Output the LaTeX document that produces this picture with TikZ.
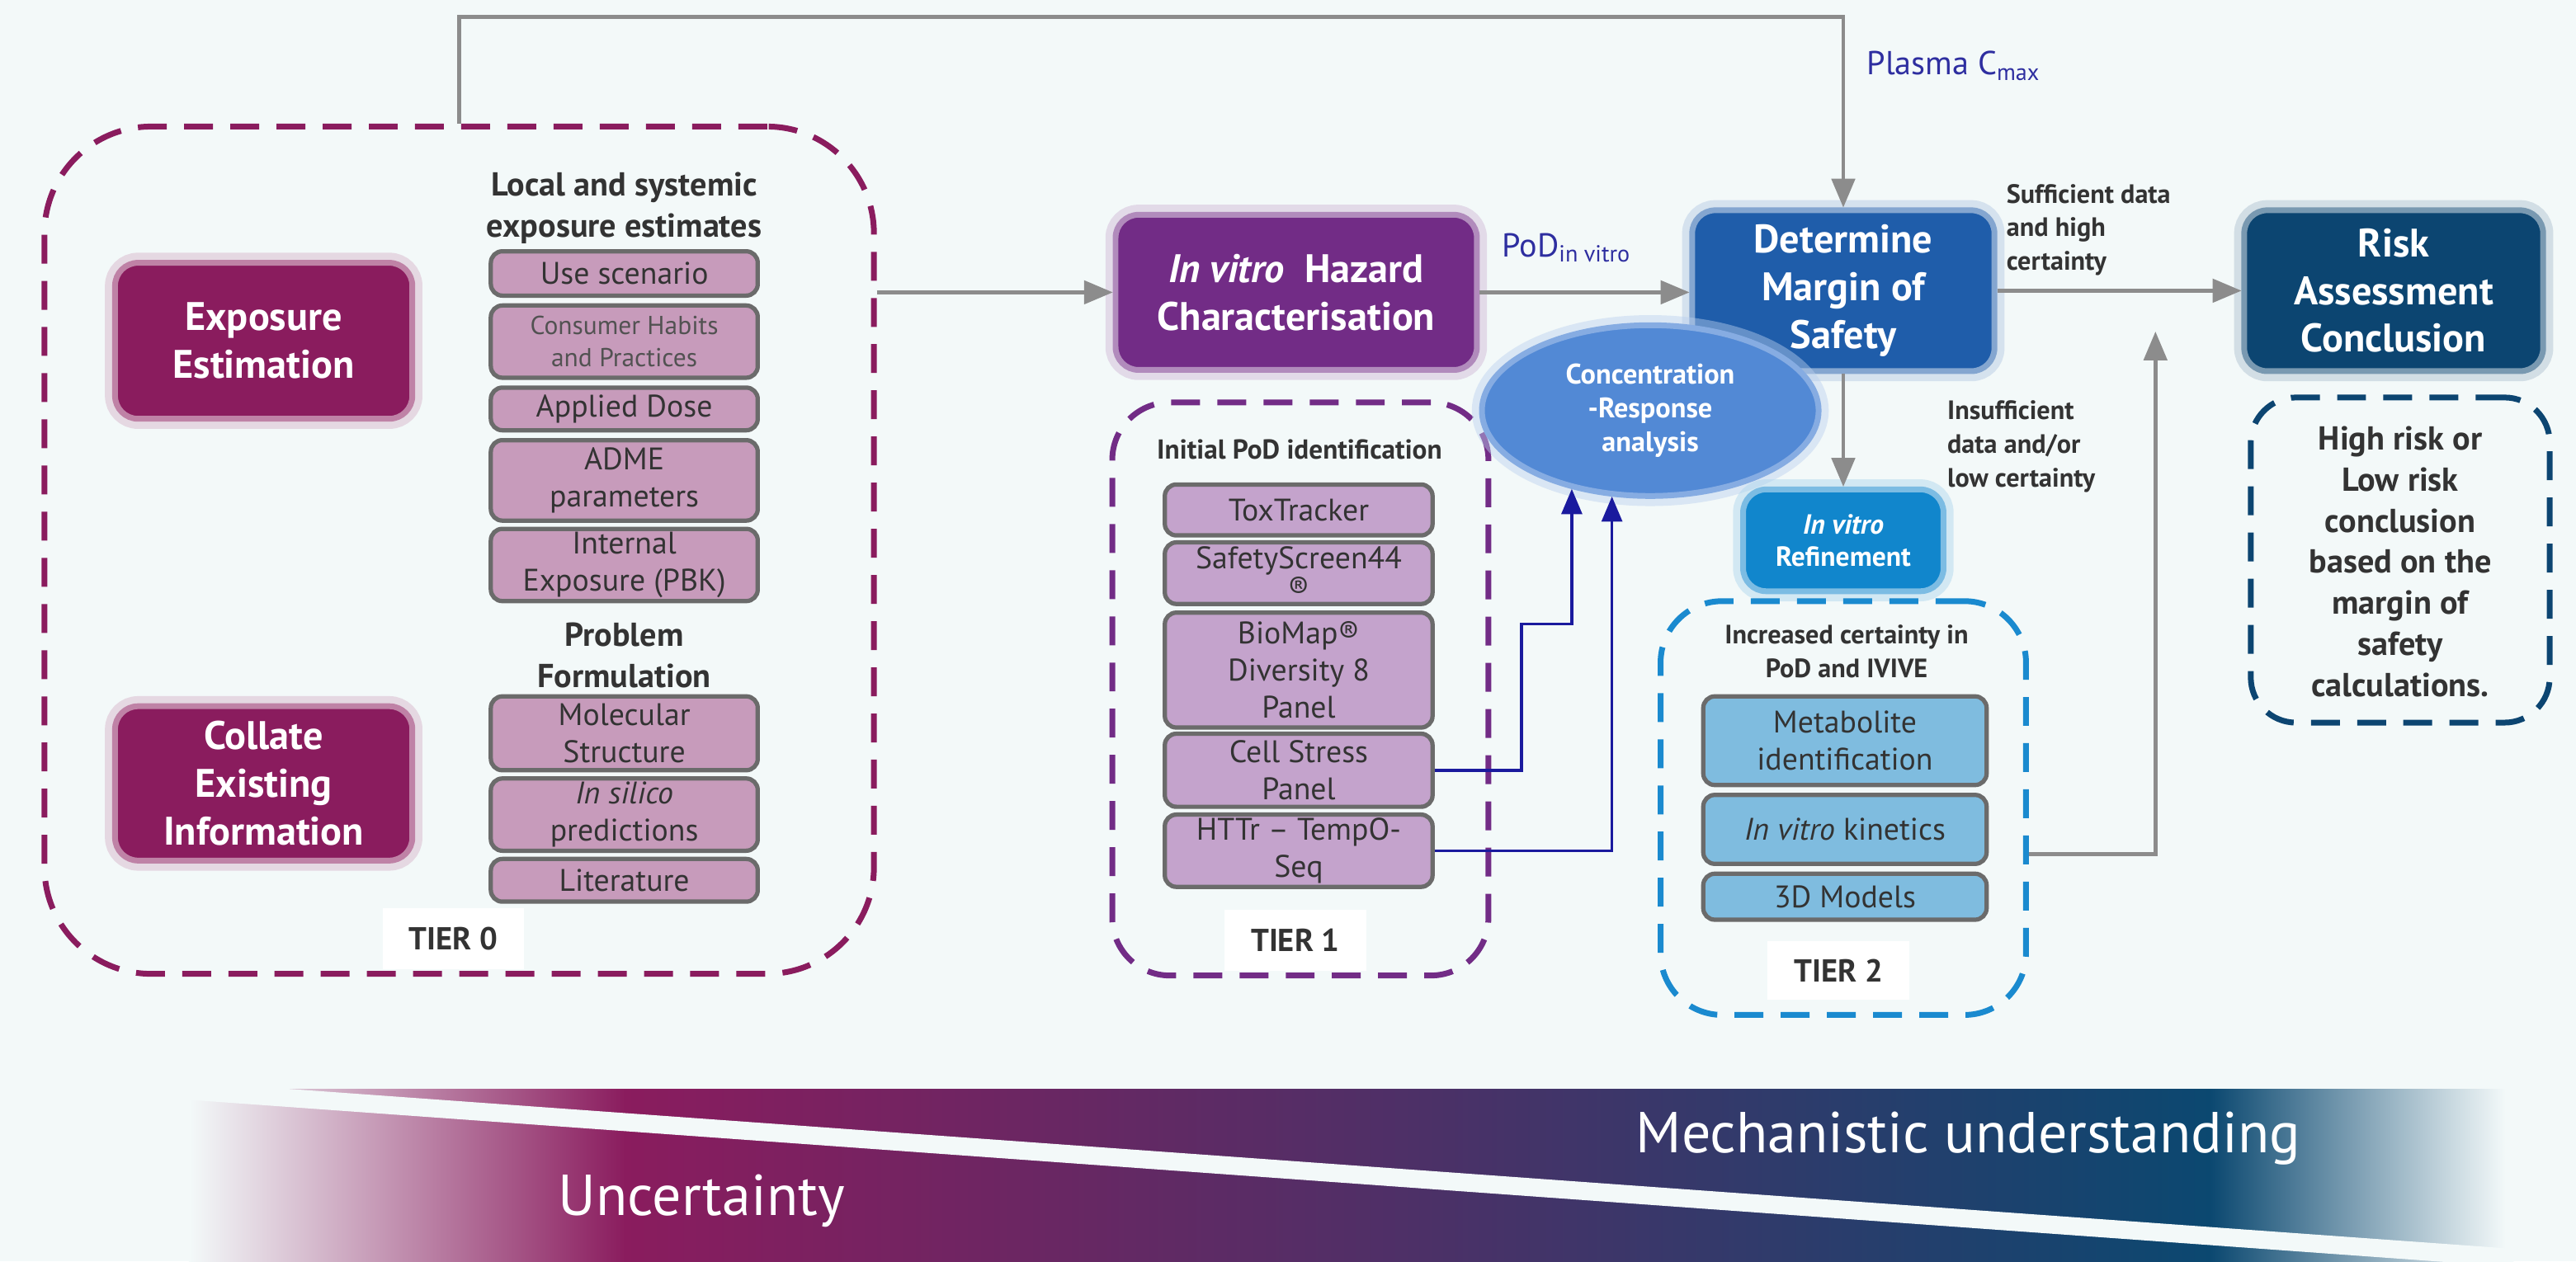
\documentclass[tikz,border=0pt]{standalone}
\usepackage{fontspec}
\setmainfont{PT Sans}
\usetikzlibrary{shapes,arrows,positioning}

\definecolor{bgcol}{HTML}{F3F9F9}
\definecolor{magcol}{HTML}{8A1C5E}
\definecolor{purcol}{HTML}{722C86}
\definecolor{detcol}{HTML}{1F5DAA}
\definecolor{crcol}{HTML}{5289D5}
\definecolor{refcol}{HTML}{1186CC}
\definecolor{riskcol}{HTML}{0C4571}
\definecolor{pinkcol}{HTML}{C79BBB}
\definecolor{lavcol}{HTML}{C4A3CC}
\definecolor{skycol}{HTML}{7FBCDF}
\definecolor{t2col}{HTML}{1A8ACF}
\definecolor{linecol}{HTML}{8C8C8C}
\definecolor{navycol}{HTML}{1A1A9E}
\definecolor{labcol}{HTML}{2E2EA0}
\definecolor{txtcol}{HTML}{333333}
\definecolor{edgecol}{HTML}{6B6B6B}
\definecolor{bandmid}{HTML}{4D3067}
\definecolor{bandend}{HTML}{0B4870}

\begin{document}
\begin{tikzpicture}[x=0.02cm, y=-0.02cm,
  big box/.style = {shape = rectangle, rounded corners = 8pt, fill = #1, draw = #1!55, line width = 2pt, preaction = {draw = #1!35, line width = 7pt, opacity = 0.45}, text = white, align = center, inner sep = 0pt, font = \fontsize{13.8}{16.5}\selectfont\bfseries},
  item box/.style = {shape = rectangle, rounded corners = 4pt, fill = #1, draw = edgecol, line width = 1.5pt, text = txtcol, align = center, inner sep = 1pt, font = \fontsize{10.8}{12.8}\selectfont},
  tier box/.style = {shape = rectangle, draw = #1, line width = 2pt, dash pattern = on 10pt off 6pt},
  tier label/.style = {fill = white, text = txtcol, minimum width = 1.72cm, minimum height = 0.74cm, font = \fontsize{11}{13}\selectfont\bfseries},
  head text/.style = {text = txtcol, align = center, inner sep = 0pt, font = \fontsize{11.5}{14.3}\selectfont\bfseries},
  note text/.style = {text = txtcol, align = left, inner sep = 0pt, font = \fontsize{9.2}{11.7}\selectfont\bfseries},
  blue label/.style = {text = labcol, inner sep = 0pt, font = \fontsize{11.5}{14}\selectfont},
  gray edge/.style = {-triangle 45, linecol, line width = 1.3pt},
  blue edge/.style = {-triangle 45, navycol, line width = 1pt}]

\fill[bgcol] (0,0) rectangle (1568,768);
\useasboundingbox (0,0) rectangle (1568,768);

% bottom band
\shade[left color = bgcol, right color = magcol] (115,663) rectangle (381,768);
\shade[left color = magcol, right color = bandmid] (380,663) rectangle (861,768);
\shade[left color = bandmid, right color = bandend] (860,663) rectangle (1346,768);
\shade[left color = bandend, right color = bgcol] (1345,663) rectangle (1525,768);
\fill[bgcol] (110,658.3) -- (1530,760.4) -- (1530,771.4) -- (110,669.3) -- cycle;
\node[text = white, font = \fontsize{20}{24}\selectfont] (mech) at (1198,693) {Mechanistic understanding};
\node[text = white, font = \fontsize{20}{24}\selectfont] (unc) at (427,731) {Uncertainty};

% tier 0
\node[tier box = magcol, rounded corners = 1.3cm, minimum width = 10.1cm, minimum height = 10.32cm] (tier0) at (279.5,335) {};
\node[big box = magcol, minimum width = 3.62cm, minimum height = 1.9cm] (expo) at (160.5,207.5) {Exposure\\Estimation};
\node[big box = magcol, minimum width = 3.62cm, minimum height = 1.88cm] (coll) at (160.5,477) {Collate\\Existing\\Information};
\node[head text] (exphead) at (380,126.5) {Local and systemic\\exposure estimates};
\node[item box = pinkcol, minimum width = 3.25cm, minimum height = 0.54cm] (use) at (380,166.5) {Use scenario};
\node[item box = pinkcol, minimum width = 3.25cm, minimum height = 0.88cm, font = \fontsize{9}{11.3}\selectfont, text = txtcol!85] (habits) at (380,208) {Consumer Habits\\and Practices};
\node[item box = pinkcol, minimum width = 3.25cm, minimum height = 0.52cm] (dose) at (380,249) {Applied Dose};
\node[item box = pinkcol, minimum width = 3.25cm, minimum height = 0.98cm] (adme) at (380,292.5) {ADME\\parameters};
\node[item box = pinkcol, minimum width = 3.25cm, minimum height = 0.88cm] (pbk) at (380,344) {Internal\\Exposure (PBK)};
\node[head text] (probhead) at (380,399) {Problem\\Formulation};
\node[item box = pinkcol, minimum width = 3.25cm, minimum height = 0.9cm] (molec) at (380,446.5) {Molecular\\Structure};
\node[item box = pinkcol, minimum width = 3.25cm, minimum height = 0.88cm] (silico) at (380,496) {\textit{In silico}\\predictions};
\node[item box = pinkcol, minimum width = 3.25cm, minimum height = 0.52cm] (lit) at (380,536) {Literature};
\node[tier label] (t0lab) at (276,571.5) {TIER 0};

% tier 1
\node[big box = purcol, minimum width = 4.4cm, minimum height = 1.89cm] (haz) at (789,178) {\textit{In vitro}\ \ Hazard\\Characterisation};
\node[tier box = purcol, rounded corners = 0.7cm, minimum width = 4.58cm, minimum height = 6.98cm] (tier1) at (791.5,419.5) {};
\node[head text, font = \fontsize{9.5}{11.5}\selectfont\bfseries] (podhead) at (791,273.5) {Initial PoD identification};
\node[item box = lavcol, minimum width = 3.26cm, minimum height = 0.62cm] (tox) at (790.5,310.5) {ToxTracker};
\node[item box = lavcol, minimum width = 3.26cm, minimum height = 0.75cm, font = \fontsize{10.8}{10.5}\selectfont, inner sep = 0pt] (safe) at (790.5,349) {SafetyScreen44\\®};
\node[item box = lavcol, minimum width = 3.26cm, minimum height = 1.4cm] (biomap) at (790.5,408) {BioMap®\\Diversity 8\\Panel};
\node[item box = lavcol, minimum width = 3.26cm, minimum height = 0.89cm] (cell) at (790.5,469) {Cell Stress\\Panel};
\node[item box = lavcol, minimum width = 3.26cm, minimum height = 0.88cm] (httr) at (790.5,518) {HTTr -- TempO-\\Seq};
\node[tier label] (t1lab) at (788.5,572.5) {TIER 1};

% margin of safety
\node[big box = detcol, minimum width = 3.68cm, minimum height = 1.96cm] (det) at (1122,177) {Determine\\Margin of\\Safety};
\node[shape = ellipse, fill = crcol, draw = crcol!70, line width = 2pt, preaction = {draw = crcol!40, line width = 7pt, opacity = 0.45}, minimum width = 4.1cm, minimum height = 2.08cm, inner sep = 0pt, text = white, align = center, font = \fontsize{9.8}{11.7}\selectfont\bfseries] (cr) at (1004.5,250) {Concentration\\-Response\\analysis};
\node[blue label, anchor = west] (podlab) at (914,151) {PoD\textsubscript{in vitro}};
\node[blue label, anchor = west] (cmax) at (1136,40) {Plasma C\textsubscript{max}};

% tier 2
\node[big box = refcol, minimum width = 2.44cm, minimum height = 1.24cm, font = \fontsize{9.6}{11}\selectfont\bfseries] (ref) at (1122,329) {\textit{In vitro}\\Refinement};
\node[tier box = t2col, rounded corners = 0.75cm, minimum width = 4.45cm, minimum height = 5.04cm] (tier2) at (1122,492) {};
\node[head text, font = \fontsize{9.2}{11.7}\selectfont\bfseries] (ivivehead) at (1124,396.5) {Increased certainty in\\PoD and IVIVE};
\node[item box = skycol, minimum width = 3.45cm, minimum height = 1.08cm] (met) at (1123,451) {Metabolite\\identification};
\node[item box = skycol, minimum width = 3.45cm, minimum height = 0.84cm] (kin) at (1123,505) {\textit{In vitro} kinetics};
\node[item box = skycol, minimum width = 3.45cm, minimum height = 0.56cm] (models) at (1123,546) {3D Models};
\node[tier label, minimum height = 0.71cm] (t2lab) at (1119,591) {TIER 2};

% conclusion
\node[big box = riskcol, minimum width = 3.64cm, minimum height = 1.96cm] (risk) at (1457,177) {Risk\\Assessment\\Conclusion};
\node[tier box = riskcol, rounded corners = 0.55cm, minimum width = 3.64cm, minimum height = 3.96cm] (riskbox) at (1461,341) {};
\node[head text, font = \fontsize{11.5}{14.2}\selectfont\bfseries] (risktext) at (1461,342) {High risk or\\Low risk\\conclusion\\based on the\\margin of\\safety\\calculations.};
\node[note text, anchor = west] (suff) at (1221,140) {Sufficient data\\and high\\certainty};
\node[note text, anchor = west] (insuff) at (1185,272) {Insufficient\\data and/or\\low certainty};
\coordinate (merge) at (1312,202);

% connectors
\draw[gray edge] (tier0.north) -- ++(0,-65) -| (det.north);
\draw[gray edge] (tier0.east |- haz.west) -- (haz.west);
\draw[gray edge] (haz.east) -- (haz.east -| det.west);
\draw[gray edge] (det.east) -- (det.east -| risk.west);
\draw[gray edge] (det.south) -- (ref.north);
\draw[gray edge] (tier2.east) ++(0,28) -| (merge);
\draw[blue edge] (cell.east) -| (926,380) -| (cr.225);
\draw[blue edge] (httr.east) -| (cr.246);

\end{tikzpicture}
\end{document}
